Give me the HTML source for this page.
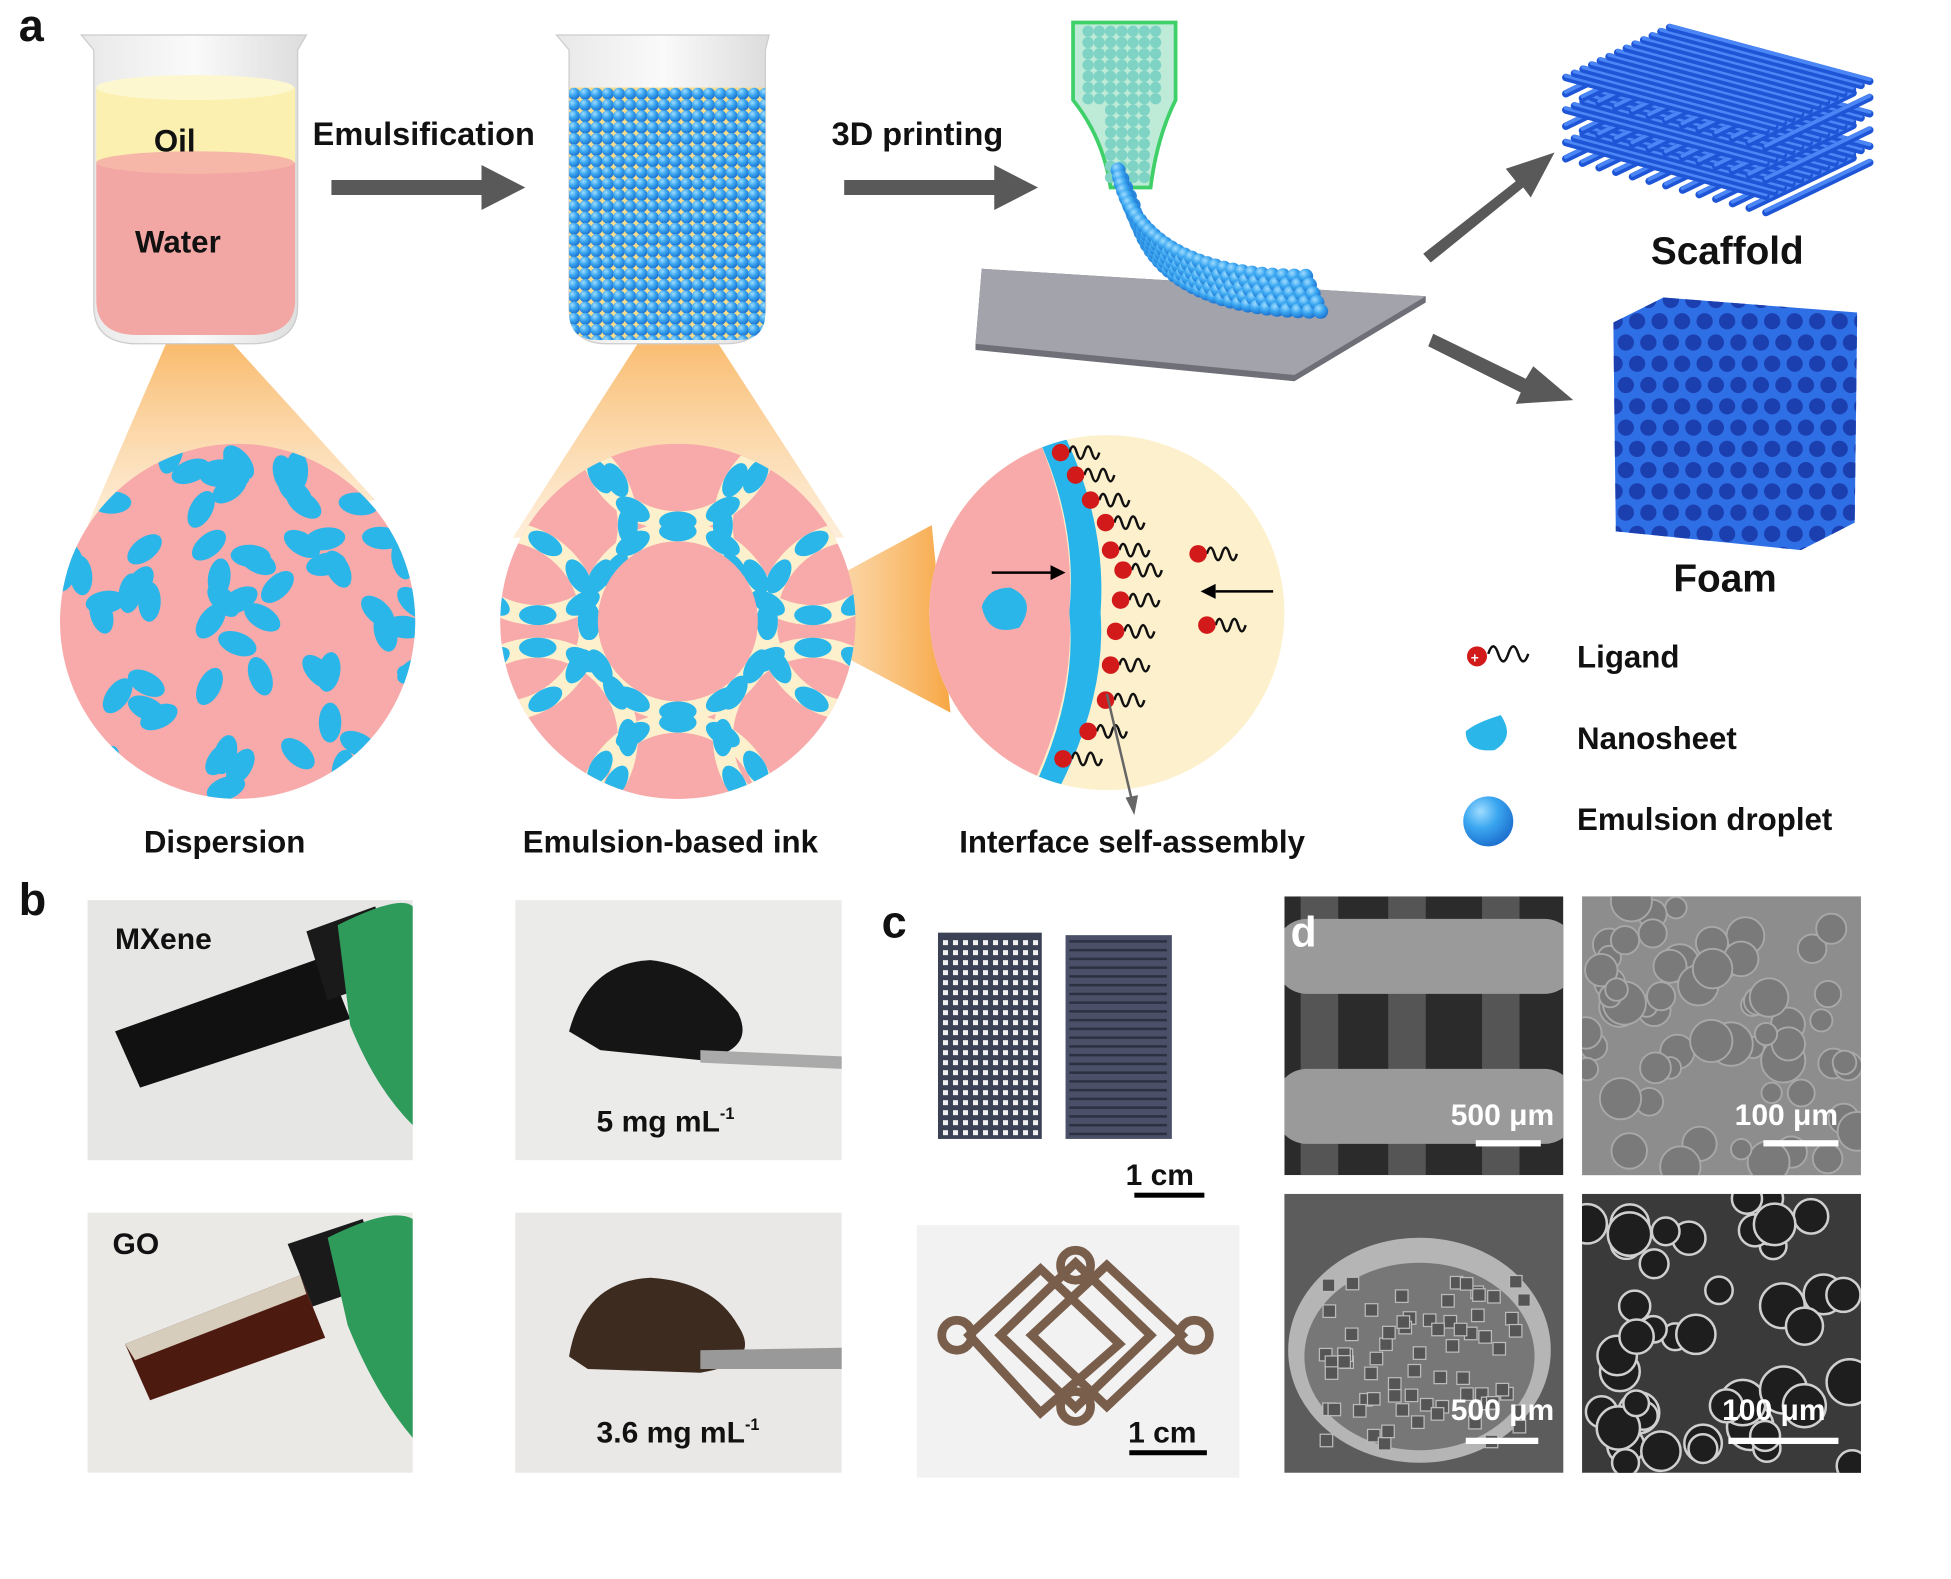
<!DOCTYPE html>
<html><head><meta charset="utf-8"><style>
html,body{margin:0;padding:0;background:#fff}
svg{display:block}
text{font-family:"Liberation Sans",Arial,sans-serif;font-weight:bold;fill:#111}
</style></head><body>
<svg id="s" width="1951" height="1579" viewBox="0 0 1560 1263" preserveAspectRatio="none" xmlns="http://www.w3.org/2000/svg">
<defs>
<radialGradient id="ball" cx="35%" cy="30%" r="70%"><stop offset="0" stop-color="#9fdcff"/><stop offset="0.5" stop-color="#3aa6f0"/><stop offset="1" stop-color="#1f74d0"/></radialGradient>
<linearGradient id="cone" x1="0" y1="0" x2="0" y2="1"><stop offset="0" stop-color="#f7a744"/><stop offset="1" stop-color="#fde3c0" stop-opacity="0.6"/></linearGradient>
<linearGradient id="cone2" x1="1" y1="0" x2="0" y2="0"><stop offset="0" stop-color="#f7a744"/><stop offset="1" stop-color="#fde3c0" stop-opacity="0.6"/></linearGradient>
<linearGradient id="glass" x1="0" y1="0" x2="1" y2="0"><stop offset="0" stop-color="#e8e8e8"/><stop offset="0.5" stop-color="#fafafa"/><stop offset="1" stop-color="#dcdcdc"/></linearGradient>
<clipPath id="c1"><circle cx="190" cy="497" r="142"/></clipPath>
<clipPath id="c2"><circle cx="542" cy="497" r="142"/></clipPath>
<clipPath id="c3"><circle cx="885" cy="490" r="142"/></clipPath>
<clipPath id="bk2"><path d="M455 70 L612 70 L612 250 Q612 272 590 272 L478 272 Q455 272 455 250 Z"/></clipPath>
<clipPath id="foamc"><path d="M1290 258 L1330 238 L1485 250 L1483 418 L1440 440 L1292 425 Z"/></clipPath>
<clipPath id="s2"><rect x="1265" y="717" width="223" height="223"/></clipPath>
<clipPath id="s3"><rect x="1027" y="955" width="223" height="223"/></clipPath>
<clipPath id="s4"><rect x="1265" y="955" width="223" height="223"/></clipPath>
<clipPath id="s1"><rect x="1027" y="717" width="223" height="223"/></clipPath>
</defs>
<text x="15" y="33" font-size="36">a</text>
<!-- cones -->
<path d="M150 235 L70 420 L300 400 Z" fill="url(#cone)"/>
<path d="M542 225 L410 430 L675 430 Z" fill="url(#cone)"/>
<path d="M612 492 L745 420 L760 570 Z" fill="url(#cone2)"/>
<!-- beaker 1 -->
<path d="M65 28 L245 28 L238 40 L238 245 Q238 275 200 275 L110 275 Q75 275 75 245 L75 40 Z" fill="url(#glass)" stroke="#ccc"/>
<path d="M77 70 L236 70 L236 130 L77 130 Z" fill="#fbf0b0"/>
<ellipse cx="156" cy="70" rx="79" ry="10" fill="#fdf7cf"/>
<path d="M77 130 L236 130 L236 240 Q236 268 200 268 L110 268 Q77 268 77 240 Z" fill="#f3a7a4"/>
<ellipse cx="156" cy="130" rx="79" ry="9" fill="#f6b7a8"/>
<text x="123" y="121" font-size="25">Oil</text>
<text x="108" y="202" font-size="25">Water</text>
<!-- arrows -->
<text x="250" y="116" font-size="26">Emulsification</text>
<path d="M265 144 L385 144 L385 132 L420 150 L385 168 L385 156 L265 156 Z" fill="#595959"/>
<text x="665" y="116" font-size="26">3D printing</text>
<path d="M675 144 L795 144 L795 132 L830 150 L795 168 L795 156 L675 156 Z" fill="#595959"/>
<!-- beaker 2 -->
<path d="M445 28 L615 28 L612 40 L612 245 Q612 275 580 275 L485 275 Q455 275 455 245 L455 40 Z" fill="url(#glass)" stroke="#ccc"/>
<rect x="455" y="70" width="157" height="205" fill="#f7dc8c" clip-path="url(#bk2)"/>
<g id="b2balls" clip-path="url(#bk2)"></g>
<!-- printing -->
<path d="M785 215 L1140 237 L1140 242 L1035 305 L780 280 L780 275 Z" fill="#6f6f77"/>
<path d="M785 215 L1140 237 L1035 300 L780 275 Z" fill="#a3a3ab"/>
<path d="M858 18 L940 18 L940 80 Q925 110 920 150 L888 150 Q882 110 858 80 Z" fill="#bdebd8" stroke="#40d06a" stroke-width="3"/>
<g id="noz"></g>
<!-- scaffold -->
<g id="scaf"></g>
<text x="1320" y="211" font-size="31">Scaffold</text>
<path d="M1138 203 L1212 145 L1204 135 L1243 122 L1224 158 L1218 150 L1144 210 Z" fill="#595959"/>
<path d="M1146 267 L1220 303 L1226 293 L1258 320 L1212 323 L1216 314 L1142 277 Z" fill="#595959"/>
<!-- foam -->
<g clip-path="url(#foamc)"><rect x="1280" y="230" width="210" height="215" fill="#2f6fe6"/><g id="foam"></g></g>
<text x="1338" y="473" font-size="31">Foam</text>
<!-- circle 1 -->
<circle cx="190" cy="497" r="142" fill="#f7aaa9"/>
<g id="d1" clip-path="url(#c1)"></g>
<!-- circle 2 -->
<circle cx="542" cy="497" r="142" fill="#f7aaa9"/>
<g clip-path="url(#c2)"><g id="d2"></g></g>
<!-- circle 3 -->
<circle cx="885" cy="490" r="142" fill="#fdf0cc"/>
<g clip-path="url(#c3)">
<path d="M743 350 L830 350 Q860 420 855 490 Q860 560 820 640 L743 640 Z" fill="#f7aaa9"/>
<path d="M830 350 Q862 420 855 490 Q862 560 822 640 L842 640 Q885 560 880 490 Q885 420 852 350 Z" fill="#27b4ea"/>
<g id="lig"></g>
</g>
<path d="M793 458 L840 458" stroke="#000" stroke-width="2"/><path d="M840 452 L852 458 L840 464 Z"/>
<path d="M1018 473 L972 473" stroke="#000" stroke-width="2"/><path d="M972 467 L960 473 L972 479 Z"/>
<path d="M808 470 Q830 480 815 502 Q790 510 785 485 Q790 470 808 470 Z" fill="#2bb6ea"/>
<path d="M885 555 L905 640" stroke="#666" stroke-width="2"/><path d="M900 638 L907 652 L910 636 Z" fill="#666"/>
<text x="115" y="682" font-size="25">Dispersion</text>
<text x="418" y="682" font-size="25">Emulsion-based ink</text>
<text x="767" y="682" font-size="25">Interface self-assembly</text>
<!-- legend -->
<circle cx="1181" cy="525" r="8" fill="#d21a1a"/><text x="1176" y="530" font-size="11" style="fill:#fff">+</text>
<path d="M1190 523 q4 -12 8 0 t8 0 t8 0 t8 0" stroke="#111" stroke-width="2" fill="none"/>
<text x="1261" y="534" font-size="25">Ligand</text>
<path d="M1200 572 Q1212 590 1195 600 Q1172 602 1172 585 Q1180 578 1200 572 Z" fill="#2bb6ea"/>
<text x="1261" y="599" font-size="25">Nanosheet</text>
<circle cx="1190" cy="657" r="20" fill="url(#ball)"/>
<text x="1261" y="664" font-size="25">Emulsion droplet</text>
<!-- b -->
<text x="15" y="732" font-size="36">b</text>
<rect x="70" y="720" width="260" height="208" fill="#e6e6e4"/>
<path d="M92 825 L260 765 L280 815 L112 870 Z" fill="#111"/>
<path d="M245 745 L300 725 L320 780 L262 800 Z" fill="#1a1a1a"/>
<path d="M270 740 Q320 715 330 725 L330 900 Q300 870 280 820 Z" fill="#2e9b5b"/>
<text x="92" y="759" font-size="24">MXene</text>
<rect x="412" y="720" width="261" height="208" fill="#ebebea"/>
<path d="M455 825 Q470 770 520 768 Q560 772 590 810 Q605 840 560 848 L480 840 Z" fill="#151515"/>
<path d="M560 840 L673 845 L673 855 L560 850 Z" fill="#aaa"/>
<text x="477" y="905" font-size="24">5 mg mL<tspan font-size="13" dy="-10">-1</tspan></text>
<rect x="70" y="970" width="260" height="208" fill="#ebe9e6"/>
<path d="M100 1075 L240 1020 L260 1070 L120 1120 Z" fill="#4d1a10"/>
<path d="M100 1075 L240 1020 L245 1035 L108 1088 Z" fill="#d7cdbd"/>
<path d="M230 995 L290 975 L308 1025 L250 1045 Z" fill="#1a1a1a"/>
<path d="M262 990 Q312 965 330 975 L330 1150 Q300 1115 278 1060 Z" fill="#2e9b5b"/>
<text x="90" y="1003" font-size="24">GO</text>
<rect x="412" y="970" width="261" height="208" fill="#e9e8e6"/>
<path d="M455 1085 Q465 1025 520 1022 Q570 1025 590 1060 Q610 1090 560 1098 L470 1095 Z" fill="#3d2b20"/>
<path d="M560 1080 L673 1078 L673 1095 L560 1095 Z" fill="#999"/>
<text x="477" y="1154" font-size="24">3.6 mg mL<tspan font-size="13" dy="-10">-1</tspan></text>
<!-- c -->
<text x="705" y="750" font-size="36">c</text>
<rect x="735" y="728" width="255" height="222" fill="#fff"/>
<rect x="750" y="746" width="83" height="165" fill="#3b4255"/>
<g id="g1"></g>
<rect x="852" y="748" width="85" height="163" fill="#4a5068"/>
<g id="g2"></g>
<text x="900" y="948" font-size="24">1 cm</text>
<rect x="907" y="954" width="56" height="4" fill="#000"/>
<rect x="733" y="980" width="258" height="202" fill="#f2f2f2"/>
<g fill="none" stroke="#7a5e4c" stroke-width="7">
<path d="M800 1068 L860 1010 L920 1068 L860 1126 Z"/>
<path d="M775 1068 L832 1015 L895 1075 L832 1130 Z"/>
<path d="M825 1068 L885 1012 L945 1068 L885 1125 Z"/>
<circle cx="765" cy="1068" r="12"/><circle cx="955" cy="1068" r="12"/>
<circle cx="860" cy="1012" r="12"/><circle cx="860" cy="1125" r="12"/>
</g>
<text x="902" y="1154" font-size="24">1 cm</text>
<rect x="903" y="1160" width="62" height="4" fill="#000"/>
<!-- d -->
<g clip-path="url(#s1)">
<rect x="1027" y="717" width="223" height="223" fill="#2b2b2b"/>
<rect x="1110" y="717" width="30" height="223" fill="#555"/>
<rect x="1185" y="717" width="30" height="223" fill="#555"/>
<rect x="1040" y="717" width="30" height="223" fill="#555"/>
<rect x="1020" y="735" width="240" height="60" rx="25" fill="#9a9a9a"/>
<rect x="1020" y="855" width="240" height="60" rx="25" fill="#9a9a9a"/>
</g>
<text x="1032" y="757" font-size="34" style="fill:#fff">d</text>
<text x="1160" y="900" font-size="24" style="fill:#fff">500 μm</text>
<rect x="1180" y="912" width="52" height="5" fill="#fff"/>
<rect x="1265" y="717" width="223" height="223" fill="#8d8d8d"/>
<g id="sem2" clip-path="url(#s2)"></g>
<text x="1387" y="900" font-size="24" style="fill:#fff">100 μm</text>
<rect x="1410" y="912" width="60" height="5" fill="#fff"/>
<rect x="1027" y="955" width="223" height="223" fill="#5c5c5c"/>
<ellipse cx="1135" cy="1080" rx="105" ry="90" fill="#b5b5b5"/>
<ellipse cx="1135" cy="1085" rx="92" ry="75" fill="#777"/>
<g id="sem3" clip-path="url(#s3)"></g>
<text x="1160" y="1136" font-size="24" style="fill:#fff">500 μm</text>
<rect x="1172" y="1150" width="58" height="5" fill="#fff"/>
<rect x="1265" y="955" width="223" height="223" fill="#3a3a3a"/>
<g id="sem4" clip-path="url(#s4)"></g>
<text x="1377" y="1136" font-size="24" style="fill:#fff">100 μm</text>
<rect x="1382" y="1150" width="88" height="5" fill="#fff"/>
</svg>
<script>
var NS="http://www.w3.org/2000/svg";
function el(p,t,a){var e=document.createElementNS(NS,t);for(var k in a)e.setAttribute(k,a[k]);document.getElementById(p).appendChild(e);return e;}
var seed=7;function r(){seed=(seed*9301+49297)%233280;return seed/233280;}
for(var y=75;y<275;y+=9)for(var x=455+(y%18?4:0);x<615;x+=9)el("b2balls","circle",{cx:x,cy:y,r:4.8,fill:"url(#ball)"});
for(var y=25;y<150;y+=9)for(var x=870;x<930;x+=9){if(y>80&&(x<888||x>920))continue;el("noz","circle",{cx:x,cy:y,r:4.5,fill:"#7fd3c4"});}
for(var i=0;i<30;i++){var t=i/29;var cx=900+ t*30 + t*t*120, cy=150+ (1-(1-t)*(1-t))*85;
 for(var j=-2;j<=2;j++)el("noz","circle",{cx:cx+j*3,cy:cy+j*7,r:6,fill:"url(#ball)"});}
// scaffold
var A=[1252,62],B=[1335,22],C=[1495,60],D=[1412,105];
function P(u,v,oy){return [A[0]+u*(B[0]-A[0])+v*(D[0]-A[0]),A[1]+u*(B[1]-A[1])+v*(D[1]-A[1])+oy];}
for(var l=5;l>=0;l--){var oy=l*13;
 for(var k=0;k<=12;k++){var f=k/12,p1,p2;
  if(l%2==0){p1=P(f,0,oy);p2=P(f,1,oy);}else{p1=P(0,f,oy);p2=P(1,f,oy);}
  el("scaf","path",{d:"M"+p1[0]+" "+p1[1]+" L"+p2[0]+" "+p2[1],stroke:"#1e55d6","stroke-width":6,fill:"none","stroke-linecap":"round"});
  el("scaf","path",{d:"M"+p1[0]+" "+(p1[1]-1.5)+" L"+p2[0]+" "+(p2[1]-1.5),stroke:"#4a86f5","stroke-width":3,fill:"none","stroke-linecap":"round"});}}
for(var y=240;y<450;y+=17)for(var x=1282+((Math.round((y-240)/17))%2?9:0);x<1495;x+=18)el("foam","circle",{cx:x,cy:y,r:6.5,fill:"#1c3fb0"});
for(var i=0;i<70;i++){var cx=50+r()*285,cy=355+r()*285,a=r()*180;
 el("d1","ellipse",{cx:cx,cy:cy,rx:16,ry:9,fill:"#2bb6ea",transform:"rotate("+a+" "+cx+" "+cy+")"});}
el("d2","rect",{x:400,y:355,width:285,height:285,fill:"#f7aaa9"});
var cs=[[542,497],[430,420],[650,420],[430,590],[650,590],[542,345],[542,650],[400,497],[685,497]];
for(var k=0;k<cs.length;k++){var c=cs[k];el("d2","circle",{cx:c[0],cy:c[1],r:72,fill:"none",stroke:"#fdf0cc","stroke-width":16});}
for(var k=0;k<cs.length;k++){var c=cs[k];for(var i=0;i<12;i++){var a=i/12*6.283,x=c[0]+72*Math.cos(a),y=c[1]+72*Math.sin(a);
 el("d2","ellipse",{cx:x,cy:y,rx:15,ry:8,fill:"#2bb6ea",transform:"rotate("+(a*57.3+90)+" "+x+" "+y+")"});}}
el("d2","circle",{cx:542,cy:497,r:64,fill:"#f7aaa9"});
var pts=[[848,362],[860,380],[872,400],[884,418],[888,440],[898,456],[896,480],[892,505],[888,532],[884,560],[870,585],[850,607],[958,443],[965,500]];
for(var i=0;i<pts.length;i++){var p=pts[i];el("lig","path",{d:"M"+(p[0]+7)+" "+p[1]+" q3 -10 6 0 t6 0 t6 0 t6 0",stroke:"#111","stroke-width":2,fill:"none"});
 el("lig","circle",{cx:p[0],cy:p[1],r:7,fill:"#d21a1a"});}
for(var x=754;x<832;x+=8)for(var y=752;y<908;y+=8)el("g1","rect",{x:x,y:y,width:4,height:4,fill:"#f2f2f2"});
for(var y=752;y<908;y+=7)el("g2","rect",{x:855,y:y,width:78,height:2,fill:"#2c3142"});
for(var i=0;i<60;i++){el("sem2","circle",{cx:1268+r()*218,cy:720+r()*218,r:8+r()*10,fill:"#7a7a7a",stroke:"#a8a8a8","stroke-width":1.5});}
for(var i=0;i<70;i++){el("sem3","rect",{x:1055+r()*160,y:1020+r()*130,width:10,height:10,fill:"#555",stroke:"#bbb","stroke-width":1});}
for(var i=0;i<45;i++){el("sem4","circle",{cx:1268+r()*218,cy:958+r()*218,r:10+r()*9,fill:"#1e1e1e",stroke:"#cfcfcf","stroke-width":2});}
</script>
</body></html>
